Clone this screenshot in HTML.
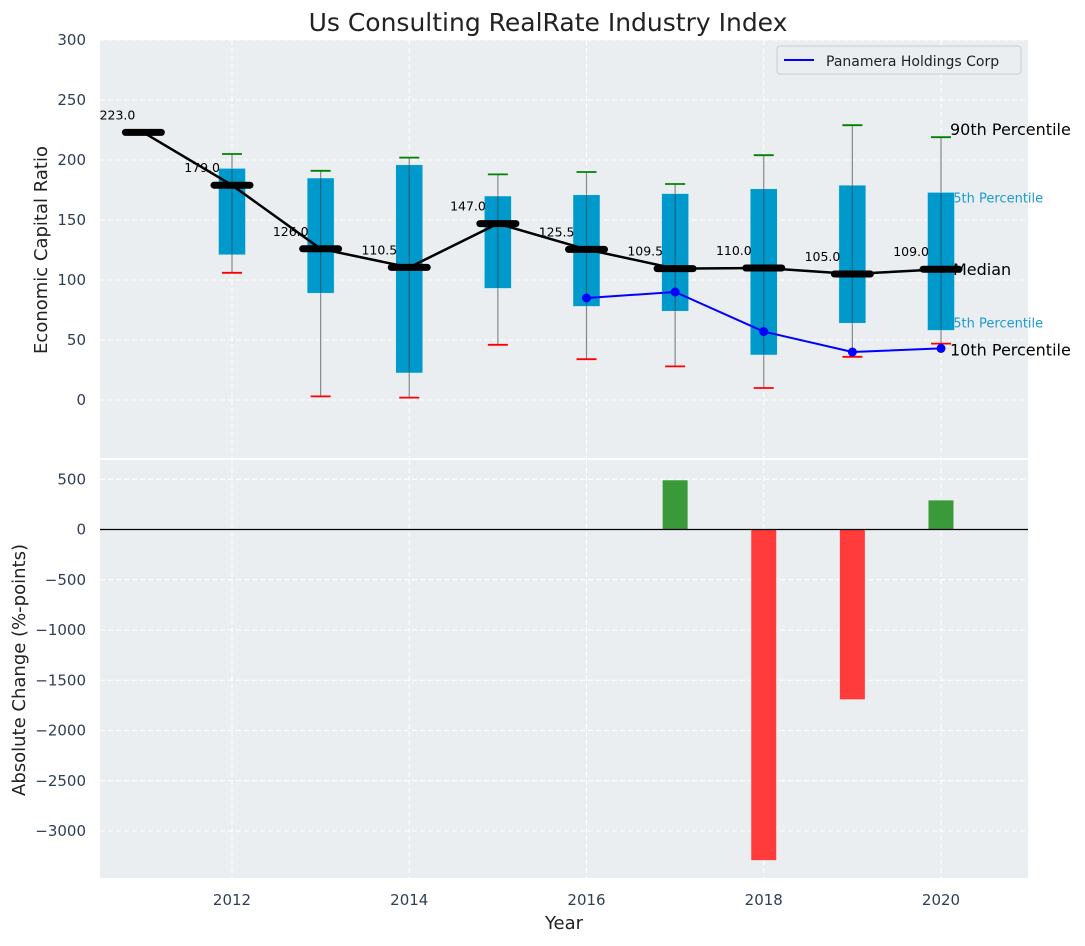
<!DOCTYPE html>
<html><head><meta charset="utf-8"><style>
body{margin:0;background:#fff;font-family:"DejaVu Sans","Liberation Sans",sans-serif;}
svg text{font-family:"DejaVu Sans","Liberation Sans",sans-serif;}
</style></head><body>
<svg id="chart" width="1085" height="942" xmlns="http://www.w3.org/2000/svg">
<rect x="100" y="40" width="928" height="418" fill="#eaeef0"/>
<rect x="100" y="460" width="928" height="418" fill="#eaeef0"/>
<g id="topg"></g><g id="botg"></g>
<text x="548" y="31" font-size="25" text-anchor="middle" fill="#222">Us Consulting RealRate Industry Index</text>
<text x="47" y="250" font-size="18" text-anchor="middle" fill="#222" transform="rotate(-90 47 250)">Economic Capital Ratio</text>
<text x="25" y="670" font-size="18" text-anchor="middle" fill="#222" transform="rotate(-90 25 670)">Absolute Change (%-points)</text>
<text x="564" y="929" font-size="18" text-anchor="middle" fill="#222">Year</text>
<g>
<rect x="777" y="46" width="244" height="28" rx="3" fill="#eaeef0" stroke="#ccc"/>
<line x1="784" y1="60" x2="814" y2="60" stroke="#0000ff" stroke-width="2"/>
<text x="826" y="66" font-size="14" fill="#222">Panamera Holdings Corp</text>
</g>
</svg>
<script>
const years=[2011,2012,2013,2014,2015,2016,2017,2018,2019,2020];
const medians=[223,179,126,110.5,147,125.5,109.5,110,105,109];
const p90=[null,205,191,202,188,190,180,204,229,219];
const p10=[null,106,3,2,46,34,28,10,36,47];
const p75=[null,193,185,196,170,171,172,176,179,173];
const p25=[null,121,89,22.5,93,78,74,37.5,64,58];
const companyYears=[2016,2017,2018,2019,2020];
const companyVals=[85,90,57,40,43];
const changeYears=[2017,2018,2019,2020];
const changeVals=[490,-3290,-1690,290];
const topTicks=[0,50,100,150,200,250,300];
const botTicks=[500,0,-500,-1000,-1500,-2000,-2500,-3000];
const xTicks=[2012,2014,2016,2018,2020];

const NS="http://www.w3.org/2000/svg";
const X=y=>232+(y-2012)*88.625;
const Y=v=>400-v*1.2;
const YB=v=>529.5-v*0.1005;
function mk(p,t,a){const e=document.createElementNS(NS,t);for(const k in a)e.setAttribute(k,a[k]);p.appendChild(e);return e;}
const topG=document.getElementById('topg'),botG=document.getElementById('botg');
const svgEl=document.getElementById('chart');
topTicks.forEach(t=>{const g=mk(topG,'line',{x1:100,x2:1028,y1:Y(t),y2:Y(t),stroke:'#fff','stroke-dasharray':'5,3','stroke-width':1});

const l=mk(svgEl,'text',{x:86,y:Y(t)+5,'font-size':15,'text-anchor':'end',fill:'#2e3f55'});l.textContent=t;
});
botTicks.forEach(t=>{const g=mk(botG,'line',{x1:100,x2:1028,y1:YB(t),y2:YB(t),stroke:'#fff','stroke-dasharray':'5,3','stroke-width':1});

const l=mk(svgEl,'text',{x:86,y:YB(t)+5,'font-size':15,'text-anchor':'end',fill:'#2e3f55'});l.textContent=t<0?'\u2212'+(-t):t;
});
xTicks.forEach(t=>{[[40,458,topG],[460,878,botG]].forEach(([a,b,p])=>{const g=mk(p,'line',{x1:X(t),x2:X(t),y1:a,y2:b,stroke:'#fff','stroke-dasharray':'5,3'});
});
const l=mk(svgEl,'text',{x:X(t),y:905,'font-size':15,'text-anchor':'middle',fill:'#2e3f55'});l.textContent=t;
});
const li=years.length-1,lx=X(years[li]);
[[p75[li],'75th Percentile','label-75th',10],[p25[li],'25th Percentile','label-25th',-3]].forEach(([v,s,n,dy])=>{
const t=mk(topG,'text',{x:lx+4,y:Y(v)+dy,'font-size':13,fill:'#1a9bd0'});t.textContent=s;
});
years.forEach((y,i)=>{
if(p90[i]!==null){
const w=mk(topG,'line',{x1:X(y),x2:X(y),y1:Y(p10[i]),y2:Y(p90[i]),stroke:'#888','stroke-width':1.2});

const b=mk(topG,'rect',{x:X(y)-13.5,y:Y(p75[i]),width:27,height:Y(p25[i])-Y(p75[i]),fill:'#0099cc',stroke:'#d6eef8','stroke-width':0.5});

const w2=mk(topG,'line',{x1:X(y),x2:X(y),y1:Y(p75[i]),y2:Y(p25[i]),stroke:'#333','stroke-opacity':0.5,'stroke-width':1.2});

const g=mk(topG,'line',{x1:X(y)-10,x2:X(y)+10,y1:Y(p90[i]),y2:Y(p90[i]),stroke:'#008000','stroke-width':1.8});

const r=mk(topG,'line',{x1:X(y)-10,x2:X(y)+10,y1:Y(p10[i]),y2:Y(p10[i]),stroke:'#ff0000','stroke-width':1.8});
}
});
const ml=mk(topG,'polyline',{points:years.map((y,i)=>X(y)+','+Y(medians[i])).join(' '),fill:'none',stroke:'#000','stroke-width':2.5});

years.forEach((y,i)=>{
const m=mk(topG,'line',{x1:X(y)-18,x2:X(y)+18,y1:Y(medians[i]),y2:Y(medians[i]),stroke:'#000','stroke-width':7,'stroke-linecap':'round'});

const t=mk(topG,'text',{x:X(y)-12,y:Y(medians[i])-13,'font-size':12.5,'text-anchor':'end',fill:'#000'});t.textContent=medians[i].toFixed(1);
if(i===0)t.setAttribute('x',X(y)-8);
});
const cl=mk(topG,'polyline',{points:companyYears.map((y,i)=>X(y)+','+Y(companyVals[i])).join(' '),fill:'none',stroke:'#0000ff','stroke-width':2});

companyYears.forEach((y,i)=>{const c=mk(topG,'circle',{cx:X(y),cy:Y(companyVals[i]),r:4.5,fill:'#0000ff'});
});
[[p90[li],'90th Percentile','label-90th',-2],[medians[li],'Median','label-median',6],[p10[li],'10th Percentile','label-10th',12]].forEach(([v,s,n,dy],k)=>{
const t=mk(topG,'text',{x:lx+9,y:Y(v)+dy,'font-size':16,fill:'#000'});t.textContent=s;
if(k===1)t.setAttribute('x',lx+12);
});
changeYears.forEach((y,i)=>{const v=changeVals[i];
const b=mk(botG,'rect',{x:X(y)-12.5,y:Math.min(YB(v),YB(0)),width:25,height:Math.abs(YB(v)-YB(0)),fill:v>=0?'#3a9a3a':'#ff3b3b'});
});
const z=mk(botG,'line',{x1:100,x2:1028,y1:YB(0),y2:YB(0),stroke:'#000','stroke-width':1.2});

</script>
</body></html>
